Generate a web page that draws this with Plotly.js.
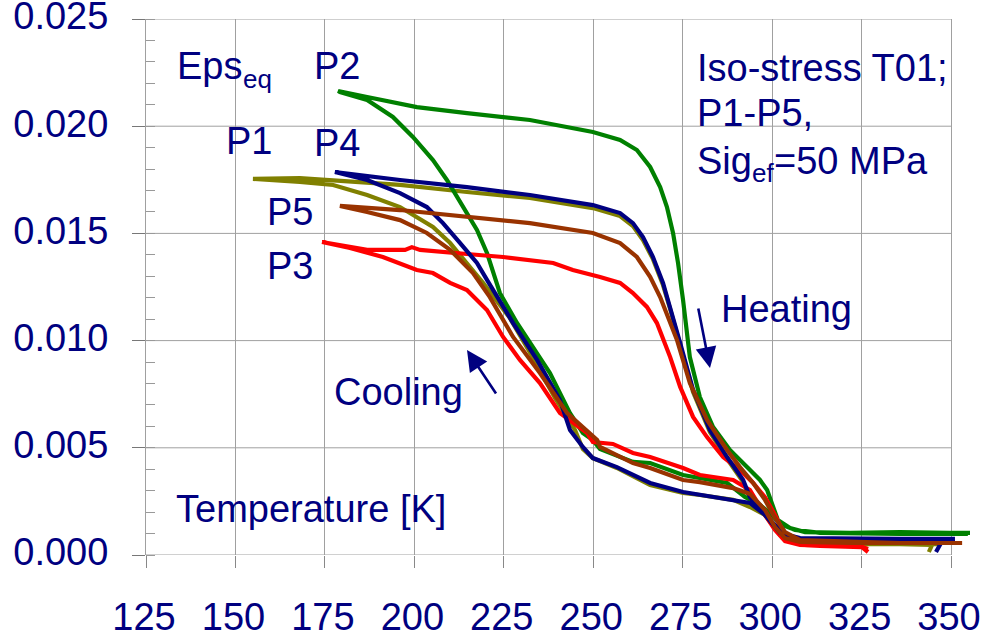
<!DOCTYPE html>
<html><head><meta charset="utf-8">
<script src="https://cdn.plot.ly/plotly-3.0.1.min.js"></script>
<style>html,body{margin:0;padding:0;background:#fff}#chart{width:982px;height:635px}</style>
</head><body><div id="chart"></div>
<script>
// Each series: cooling branch (high T -> low T) followed by heating branch (low T -> high T)
const seriesNames = ['P1', 'P2', 'P3', 'P4', 'P5'];
const seriesColors = ['#808000', '#008000', '#ff0000', '#000080', '#993300'];

const p1Temp = [343.8, 344.7, 335.7, 321.8, 307.8, 303.6, 300.8, 298.0, 293.8, 289.1, 279.8, 275.1, 265.9, 256.6, 249.9, 247.1, 244.9, 239.3, 233.2, 226.7, 219.2, 214.7, 210.0, 205.2, 200.7, 196.0, 186.8, 177.3, 168.0, 154.9,
  168.0, 196.0, 214.7, 232.3, 249.9, 257.5, 261.1, 263.9, 266.7, 269.5, 271.5, 274.3, 277.9, 282.6, 287.4, 291.9, 293.8, 298.6, 302.2, 307.8, 321.8, 335.7, 347.0];
const p1Eps = [0.00014, 0.00047, 0.00051, 0.00051, 0.00056, 0.00079, 0.0013, 0.00187, 0.00224, 0.00257, 0.0028, 0.00289, 0.00326, 0.00406, 0.00452, 0.00494, 0.00583, 0.00732, 0.00919, 0.01105, 0.01269, 0.01362, 0.01455, 0.0153, 0.01576, 0.01623, 0.01679, 0.01726, 0.0174, 0.01754,
  0.01758, 0.01726, 0.01693, 0.01665, 0.01618, 0.01581, 0.01534, 0.01469, 0.0138, 0.01259, 0.01147, 0.00979, 0.0076, 0.00574, 0.00448, 0.0034, 0.00266, 0.00173, 0.00093, 0.00061, 0.00056, 0.00056, 0.00051];

const p2Temp = [354.7, 335.7, 313.4, 306.4, 302.2, 299.4, 296.6, 292.4, 287.4, 279.8, 275.1, 265.9, 261.1, 251.9, 249.9, 247.1, 243.5, 237.9, 233.2, 228.7, 223.9, 220.3, 217.5, 212.8, 209.1, 205.2, 199.6, 194.0, 186.8, 179.2, 178.7,
  186.8, 200.7, 214.7, 232.3, 249.9, 257.5, 262.2, 265.9, 268.7, 270.6, 272.3, 273.7, 275.1, 277.0, 279.8, 283.5, 288.2, 293.0, 296.6, 298.6, 300.2, 301.6, 305.0, 309.2, 321.8, 335.7, 349.7, 355.3];
const p2Eps = [0.00098, 0.00098, 0.00103, 0.00117, 0.00145, 0.00196, 0.00233, 0.00271, 0.00336, 0.00359, 0.00373, 0.00429, 0.00434, 0.00494, 0.00536, 0.00569, 0.00662, 0.00849, 0.0097, 0.01082, 0.01222, 0.01409, 0.01516, 0.01642, 0.01749, 0.01842, 0.0195, 0.02043, 0.02122, 0.02159, 0.02164,
  0.02136, 0.02089, 0.02061, 0.02029, 0.01973, 0.01936, 0.01889, 0.0181, 0.01716, 0.01623, 0.01502, 0.01362, 0.01189, 0.00923, 0.00737, 0.00597, 0.0049, 0.0041, 0.0035, 0.00303, 0.00233, 0.00163, 0.00126, 0.00107, 0.00103, 0.00107, 0.00103, 0.00103];

const p3Temp = [326.8, 325.1, 313.4, 307.8, 303.6, 300.8, 298.0, 293.8, 289.1, 279.8, 275.1, 265.9, 261.1, 255.5, 249.9, 248.3, 240.7, 235.1, 229.5, 224.8, 220.3, 214.7, 210.0, 205.2, 200.7, 191.2, 182.0, 174.2,
  186.8, 197.4, 199.3, 201.6, 214.7, 224.8, 238.8, 244.3, 251.9, 257.5, 261.1, 265.0, 267.8, 271.5, 274.3, 277.9, 281.8, 286.3, 291.0, 294.7, 298.0, 300.8, 303.6, 307.8, 316.2, 324.6, 326.8];
const p3Eps = [0.00014, 0.00037, 0.00042, 0.00047, 0.00065, 0.00117, 0.00187, 0.00303, 0.0035, 0.00373, 0.00406, 0.00457, 0.00476, 0.00518, 0.00527, 0.00569, 0.00662, 0.00802, 0.0091, 0.01017, 0.01143, 0.01236, 0.01269, 0.01315, 0.01329, 0.0139, 0.01432, 0.0146,
  0.01423, 0.01423, 0.01436, 0.01423, 0.01404, 0.0139, 0.01362, 0.01329, 0.01297, 0.01269, 0.01222, 0.01157, 0.01082, 0.00923, 0.00784, 0.00644, 0.0055, 0.00457, 0.00396, 0.00336, 0.0027, 0.00187, 0.00093, 0.00047, 0.00042, 0.00042, 0.00028];

const p4Temp = [345.8, 347.5, 335.7, 321.8, 307.8, 303.6, 300.8, 298.0, 293.8, 284.6, 275.1, 265.9, 256.6, 249.9, 247.1, 243.5, 240.7, 234.3, 227.6, 220.3, 217.5, 212.8, 208.0, 203.5, 196.0, 186.8, 177.8,
  196.0, 214.7, 232.3, 249.9, 257.5, 261.1, 263.9, 266.7, 269.5, 271.5, 274.3, 277.9, 282.6, 287.4, 291.9, 293.8, 298.6, 302.2, 307.8, 321.8, 335.7, 351.1];
const p4Eps = [0.00014, 0.00065, 0.0007, 0.0007, 0.00075, 0.00093, 0.0014, 0.00187, 0.00243, 0.0027, 0.00294, 0.00336, 0.0041, 0.00452, 0.00504, 0.00583, 0.00723, 0.0091, 0.01082, 0.01283, 0.01362, 0.01455, 0.01548, 0.01623, 0.01688, 0.01749, 0.01786,
  0.01749, 0.01716, 0.01679, 0.01632, 0.01595, 0.01548, 0.01483, 0.0139, 0.01269, 0.01157, 0.00989, 0.0077, 0.00583, 0.00457, 0.0035, 0.0027, 0.00177, 0.00103, 0.00079, 0.00075, 0.00075, 0.00075];

const p5Temp = [353.1, 335.7, 321.8, 307.8, 303.6, 300.8, 298.0, 293.8, 289.1, 279.8, 275.1, 265.9, 261.1, 251.9, 251.1, 242.7, 235.1, 227.6, 221.1, 216.4, 210.0, 203.5, 196.0, 186.8, 179.2,
  196.0, 214.7, 232.3, 249.9, 257.5, 262.2, 265.9, 268.7, 273.4, 277.0, 281.8, 287.4, 291.0, 294.7, 298.0, 300.8, 303.6, 307.8, 321.8, 335.7, 353.1];
const p5Eps = [0.00056, 0.00056, 0.00056, 0.00061, 0.00079, 0.0013, 0.0021, 0.00285, 0.00312, 0.0034, 0.0035, 0.00406, 0.00429, 0.00504, 0.00536, 0.00662, 0.00849, 0.01017, 0.01203, 0.01315, 0.01423, 0.01502, 0.01562, 0.016, 0.01628,
  0.01609, 0.01576, 0.01548, 0.01502, 0.01455, 0.0139, 0.01297, 0.01203, 0.01003, 0.00802, 0.0063, 0.0049, 0.0041, 0.00336, 0.00257, 0.00173, 0.00107, 0.0007, 0.00061, 0.00056, 0.00056];

const xTickVals = [125, 150, 175, 200, 225, 250, 275, 300, 325, 350];
const yTickVals = [0, 0.005, 0.010, 0.015, 0.020, 0.025];

const NAVY = '#000080';
const FONT = 'Liberation Sans, Arial, sans-serif';
const GRID = '#a0a0a0';

const temps = [p1Temp, p2Temp, p3Temp, p4Temp, p5Temp];
const epss = [p1Eps, p2Eps, p3Eps, p4Eps, p5Eps];

const traces = seriesNames.map((n, i) => ({
  type: 'scatter', mode: 'lines', name: n,
  x: temps[i], y: epss[i],
  line: {color: seriesColors[i], width: 4.2}
}));

// plot-area geometry (pixels) for layout helpers
const M = {l: 146, r: 10, t: 19, b: 80};
const PW = 982 - M.l - M.r, PH = 635 - M.t - M.b;
const px = v => (v - M.l) / PW;          // pixel x -> paper x
const py = v => (635 - M.b - v) / PH;    // pixel y -> paper y

const xMin = xTickVals[0], xMax = xTickVals[xTickVals.length - 1];
const shapes = yTickVals.map(v => ({
  type: 'line', xref: 'x', yref: 'y', x0: xMin, x1: xMax, y0: v, y1: v,
  line: {color: GRID, width: 1}, layer: 'below'
}));

function lab(text, x, y, size) {
  return {text: text, x: px(x), y: py(y), xref: 'paper', yref: 'paper', xanchor: 'left', yanchor: 'middle',
    showarrow: false, font: {family: FONT, size: size || 38, color: NAVY}};
}
function arrow(hx, hy, tx, ty) {
  return {text: '', x: px(hx), y: py(hy), xref: 'paper', yref: 'paper',
    showarrow: true, ax: tx - hx, ay: ty - hy, axref: 'pixel', ayref: 'pixel',
    arrowhead: 2, arrowsize: 1.6, arrowwidth: 2.6, arrowcolor: NAVY, standoff: 0, startstandoff: 0};
}
const annotations = [
  lab('Eps', 175, 66), lab('eq', 240.5, 79, 26),
  lab('P2', 312, 66),
  lab('P1', 224, 141.5),
  lab('P4', 312, 142.5),
  lab('P5', 265, 212),
  lab('P3', 265, 265.5),
  lab('Iso-stress T01;', 695, 68.5),
  lab('P1-P5,', 695, 112.5),
  lab('Sig', 695, 160.5), lab('ef', 750, 173, 26), lab('=50 MPa', 771.7, 160.5),
  lab('Heating', 719, 308.5),
  lab('Cooling', 332, 392.5),
  lab('Temperature [K]', 174, 509),
  arrow(710, 368, 698, 307),
  arrow(467, 350, 497, 395)
];

const layout = {
  width: 982, height: 635,
  margin: {l: M.l, r: M.r, t: M.t, b: M.b, pad: 0},
  showlegend: false,
  xaxis: {
    range: [125, 355.86], tickmode: 'array', tickvals: xTickVals,
    ticks: 'outside', ticklen: 12, tickcolor: '#888',
    showgrid: true, gridcolor: GRID, gridwidth: 1,
    zeroline: false, showline: false,
    tickfont: {family: FONT, size: 38, color: NAVY},
    ticklabelstandoff: 16, ticklabelshift: -2, ticklabeloverflow: 'allow'
  },
  yaxis: {
    range: [0, 0.025], tickmode: 'array', tickvals: yTickVals, tickformat: '.3f',
    ticks: 'outside', ticklen: 13, tickcolor: '#777',
    showgrid: false, zeroline: false,
    showline: true, linecolor: GRID,
    tickfont: {family: FONT, size: 38, color: NAVY},
    ticklabelstandoff: 16, ticklabelshift: -3, ticklabeloverflow: 'allow',
    minor: {tick0: 0, dtick: 0.001, ticks: 'inside', ticklen: 9, tickcolor: '#999', showgrid: false}
  },
  shapes: shapes,
  annotations: annotations
};

Plotly.newPlot('chart', traces, layout, {displayModeBar: false, staticPlot: true});
</script>
</body></html>
